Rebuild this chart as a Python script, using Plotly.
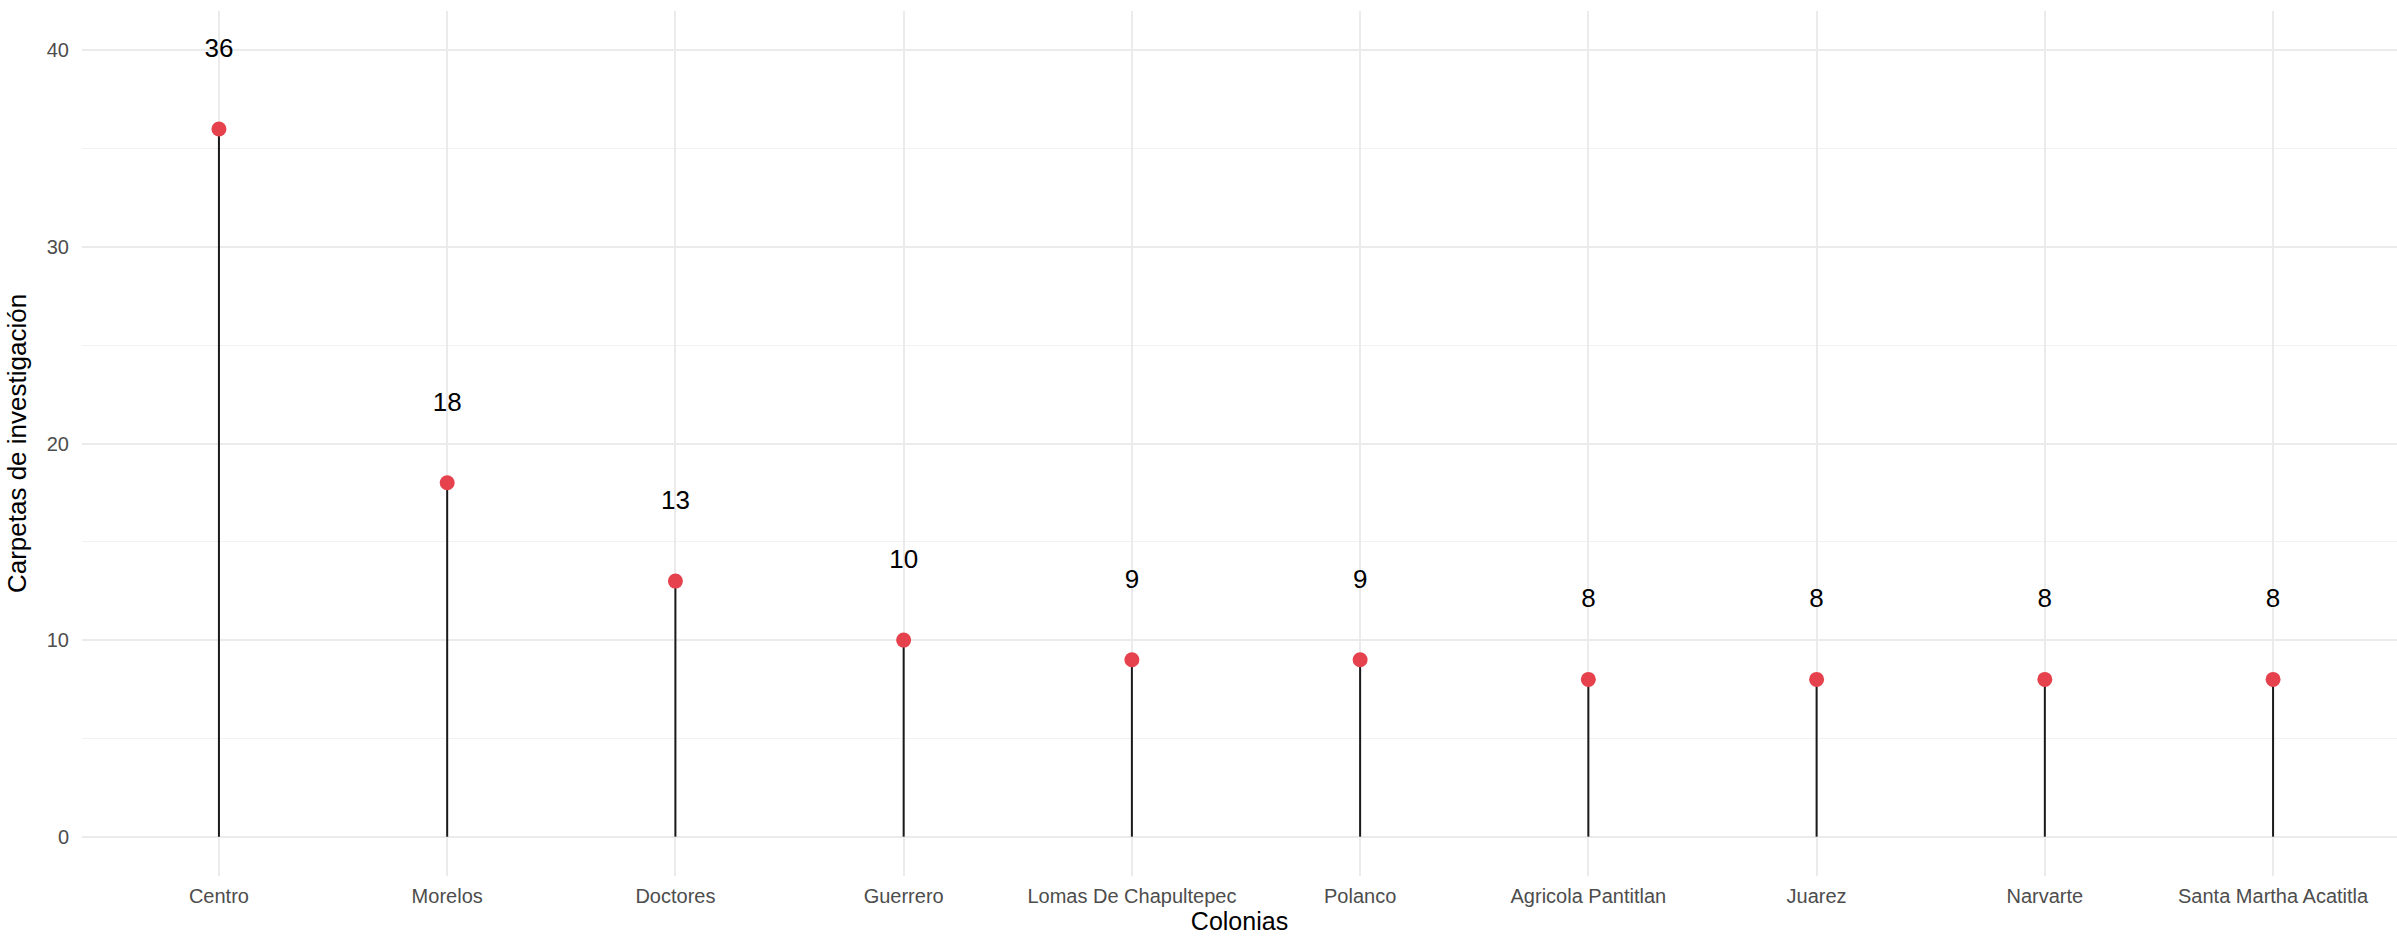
import plotly.graph_objects as go

colonias = ["Centro", "Morelos", "Doctores", "Guerrero", "Lomas De Chapultepec",
            "Polanco", "Agricola Pantitlan", "Juarez", "Narvarte", "Santa Martha Acatitla"]
carpetas = [36, 18, 13, 10, 9, 9, 8, 8, 8, 8]
y_ticks = [0, 10, 20, 30, 40]

LABEL_OFFSET = 4
FONT = "Liberation Sans, Arial, sans-serif"

fig = go.Figure()

# stems
stem_x, stem_y = [], []
for c, v in zip(colonias, carpetas):
    stem_x += [c, c, None]
    stem_y += [0, v, None]
fig.add_trace(go.Scatter(x=stem_x, y=stem_y, mode="lines",
                         line=dict(color="#1a1a1a", width=2),
                         hoverinfo="skip", showlegend=False))

# points
fig.add_trace(go.Scatter(x=colonias, y=carpetas, mode="markers",
                         marker=dict(color="#E5424D", size=15, line=dict(width=0)),
                         showlegend=False))

# value labels
fig.add_trace(go.Scatter(x=colonias, y=[v + LABEL_OFFSET for v in carpetas],
                         mode="text", text=[str(v) for v in carpetas],
                         textfont=dict(family=FONT, size=26, color="#000000"),
                         textposition="middle center", showlegend=False,
                         hoverinfo="skip"))

fig.update_layout(
    width=2397, height=940,
    margin=dict(l=82, r=0, t=11, b=64),
    plot_bgcolor="white", paper_bgcolor="white",
    font=dict(family=FONT),
    xaxis=dict(
        type="category",
        categoryorder="array", categoryarray=colonias,
        range=[-0.6, 9.543],
        automargin=False,
        showgrid=True, gridcolor="#EBEBEB", gridwidth=2,
        zeroline=False, showline=False, ticks="",
        tickfont=dict(family=FONT, size=20, color="#4D4D4D"),
        ticklabelstandoff=6,
        title=dict(text="Colonias", font=dict(family=FONT, size=25, color="#000000"),
                   standoff=3),
    ),
    yaxis=dict(
        range=[-2, 42],
        tickvals=y_ticks,
        automargin=False,
        showgrid=True, gridcolor="#EBEBEB", gridwidth=2,
        minor=dict(dtick=5, tick0=0, showgrid=True, gridcolor="#F2F2F2", gridwidth=1),
        zeroline=False, showline=False, ticks="",
        tickfont=dict(family=FONT, size=20, color="#4D4D4D"),
        ticklabelstandoff=12,
        title=dict(text="Carpetas de investigación",
                   font=dict(family=FONT, size=26, color="#000000"), standoff=12),
    ),
)

fig.write_html("out.html", config={"displayModeBar": False},
               post_script="document.body.style.margin='0';")
